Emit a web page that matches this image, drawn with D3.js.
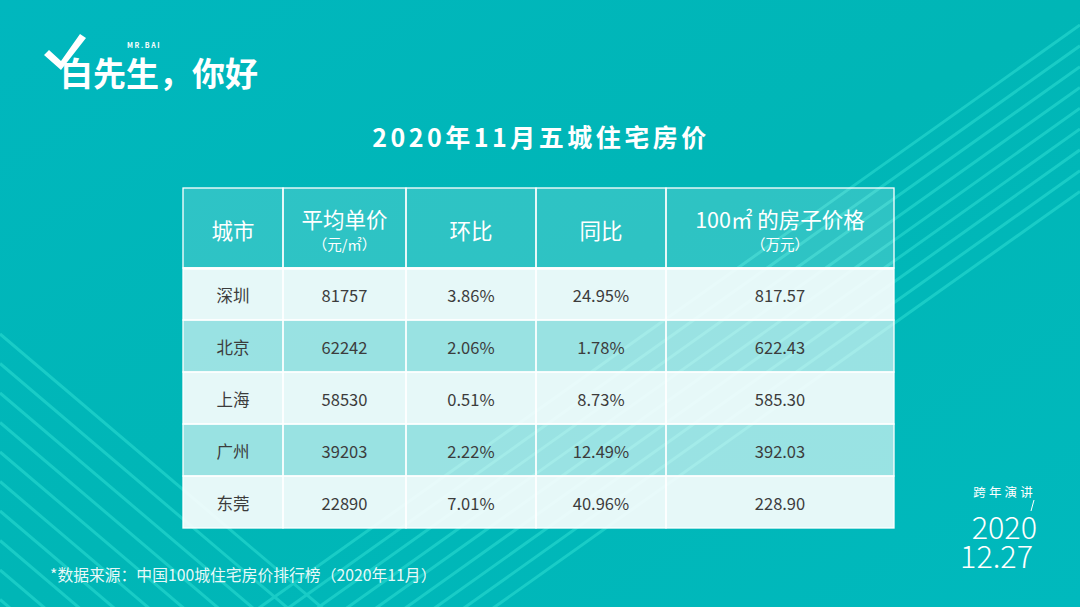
<!DOCTYPE html>
<html>
<head>
<meta charset="utf-8">
<script src="https://cdn.jsdelivr.net/npm/d3@7"></script>
<style>
  html, body { margin: 0; padding: 0; background: #00b8bc; }
  svg { display: block; }
  text { font-family: "Noto Sans CJK SC", "Noto Sans", sans-serif; }
</style>
</head>
<body>
<svg id="chart" width="1080" height="607"></svg>
<script>
// ---------------- DATA ----------------
const cities     = ["深圳", "北京", "上海", "广州", "东莞"];
const avgPrice   = [81757, 62242, 58530, 39203, 22890];      // 平均单价 (元/㎡)
const momPct     = [3.86, 2.06, 0.51, 2.22, 7.01];           // 环比 %
const yoyPct     = [24.95, 1.78, 8.73, 12.49, 40.96];        // 同比 %
const price100   = [817.57, 622.43, 585.30, 392.03, 228.90]; // 100㎡ 房子价格 (万元)
const headerMain = ["城市", "平均单价", "环比", "同比", "100㎡ 的房子价格"];
const headerSub  = ["", "（元/㎡）", "", "", "（万元）"];
const titleText  = "2020年11月五城住宅房价";
const sourceText = "*数据来源：中国100城住宅房价排行榜（2020年11月）";

// ---------------- LAYOUT ----------------
const W = 1080, H = 607;
const colEdges = [183, 283, 406, 536, 666, 894];
const headerTop = 188, headerBottom = 268, tableBottom = 528;

const svg = d3.select("#chart");
const defs = svg.append("defs");

// background
const bg = defs.append("linearGradient").attr("id", "bg")
  .attr("x1", "0").attr("y1", "0").attr("x2", "1").attr("y2", "1");
bg.append("stop").attr("offset", "0").attr("stop-color", "#00b7be");
bg.append("stop").attr("offset", "0.5").attr("stop-color", "#00b6b6");
bg.append("stop").attr("offset", "1").attr("stop-color", "#00b9bd");
svg.append("rect").attr("width", W).attr("height", H).attr("fill", "url(#bg)");

// decorative stripes
const stripes = svg.append("g").attr("stroke", "#22d4cc").attr("stroke-width", 3).attr("opacity", 0.75);
// upper-right band: rising to the right
const urStarts = d3.range(9).map(i => 25 + i * 20.8);
const urSlope = 0.71;
stripes.selectAll("line.ur").data(urStarts).join("line")
  .attr("x1", W).attr("y1", d => d)
  .attr("x2", d => W - (H + 10 - d) / urSlope).attr("y2", H + 10);
// lower-left band: falling to the right
const llStarts = d3.range(10).map(i => 334 + i * 29.5);
const llSlope = 0.85;
stripes.selectAll("line.ll").data(llStarts).join("line")
  .attr("x1", 0).attr("y1", d => d)
  .attr("x2", d => (H + 10 - d) / llSlope).attr("y2", H + 10);

// logo
const logo = svg.append("g").attr("fill", "#fff");
logo.append("text").attr("x", 60).attr("y", 86)
  .attr("font-size", 33).attr("font-weight", 700).text("白先生，你好");
logo.append("path").attr("d", "M44,55 L49,50 L61,61 L80,34 L86,38 L61,70 Z");
logo.append("text").attr("x", 127).attr("y", 48)
  .attr("font-size", 7).attr("font-weight", 700).attr("letter-spacing", 1.6)
  .attr("font-family", "Roboto, sans-serif").text("MR.BAI");

// title
svg.append("text").attr("x", 541).attr("y", 147).attr("text-anchor", "middle")
  .attr("fill", "#fff").attr("font-size", 25).attr("font-weight", 700)
  .attr("letter-spacing", 3.5).text(titleText);

// ---------------- TABLE ----------------
const rowScale = d3.scaleBand().domain(cities).range([headerBottom, tableBottom]);
const colIdx = d3.range(headerMain.length);
const colLeft = i => colEdges[i];
const colWidth = i => colEdges[i + 1] - colEdges[i];
const colMid = i => colEdges[i] + colWidth(i) / 2;

const table = svg.append("g");

// header cells
table.selectAll("rect.h").data(colIdx).join("rect")
  .attr("x", colLeft).attr("y", headerTop)
  .attr("width", colWidth).attr("height", headerBottom - headerTop)
  .attr("fill", "#ffffff").attr("fill-opacity", 0.18)
  .attr("stroke", "#ffffff").attr("stroke-width", 1.3);

table.selectAll("text.hm").data(colIdx).join("text")
  .attr("x", colMid).attr("y", i => headerSub[i] ? 218 : 229)
  .attr("text-anchor", "middle").attr("dominant-baseline", "central")
  .attr("fill", "#fff").attr("font-size", 21.5).attr("font-weight", 400)
  .text(i => headerMain[i]);
table.selectAll("text.hs").data(colIdx.filter(i => headerSub[i])).join("text")
  .attr("x", colMid).attr("y", 243)
  .attr("text-anchor", "middle").attr("dominant-baseline", "central")
  .attr("fill", "#fff").attr("font-size", 14.5)
  .text(i => headerSub[i]);

// body rows
const fmtInt = d3.format("d"), fmt2 = d3.format(".2f");
const rows = cities.map((c, r) => [
  c, fmtInt(avgPrice[r]), fmt2(momPct[r]) + "%", fmt2(yoyPct[r]) + "%", fmt2(price100[r])
]);

const rowG = table.selectAll("g.row").data(rows).join("g")
  .attr("transform", d => `translate(0,${rowScale(d[0])})`);

rowG.each(function(d, r) {
  const g = d3.select(this);
  const op = r % 2 === 0 ? 0.9 : 0.6;
  g.selectAll("rect").data(colIdx).join("rect")
    .attr("x", colLeft).attr("y", 0)
    .attr("width", colWidth).attr("height", rowScale.bandwidth())
    .attr("fill", "#ffffff").attr("fill-opacity", op)
    .attr("stroke", "#ffffff").attr("stroke-width", 1.3);
  g.selectAll("text").data(colIdx).join("text")
    .attr("x", colMid).attr("y", rowScale.bandwidth() / 2 + 1)
    .attr("text-anchor", "middle").attr("dominant-baseline", "central")
    .attr("fill", "#3c3c3c").attr("font-size", 16.5)
    .text(i => d[i]);
});

// white separator between header and body
table.append("line")
  .attr("x1", colEdges[0]).attr("x2", colEdges[colEdges.length - 1])
  .attr("y1", headerBottom + 0.5).attr("y2", headerBottom + 0.5)
  .attr("stroke", "#fff").attr("stroke-width", 2.5);

// ---------------- FOOTNOTES ----------------
svg.append("text").attr("x", 50).attr("y", 581)
  .attr("fill", "#fff").attr("fill-opacity", 0.92).attr("font-size", 15.8)
  .text(sourceText);

const side = svg.append("g").attr("fill", "#fff");
side.append("text").attr("x", 1036).attr("y", 497).attr("text-anchor", "end")
  .attr("font-size", 12.5).attr("letter-spacing", 3.2).text("跨年演讲");
side.append("line").attr("x1", 1031).attr("y1", 511).attr("x2", 1034).attr("y2", 500)
  .attr("stroke", "#fff").attr("stroke-width", 1);
side.append("text").attr("x", 1037).attr("y", 539).attr("text-anchor", "end")
  .attr("font-family", "Roboto, sans-serif").attr("font-weight", 300)
  .attr("font-size", 30.5).text("2020");
side.append("text").attr("x", 1033).attr("y", 568).attr("text-anchor", "end")
  .attr("font-family", "Roboto, sans-serif").attr("font-weight", 300)
  .attr("font-size", 30.5).text("12.27");
</script>
</body>
</html>
